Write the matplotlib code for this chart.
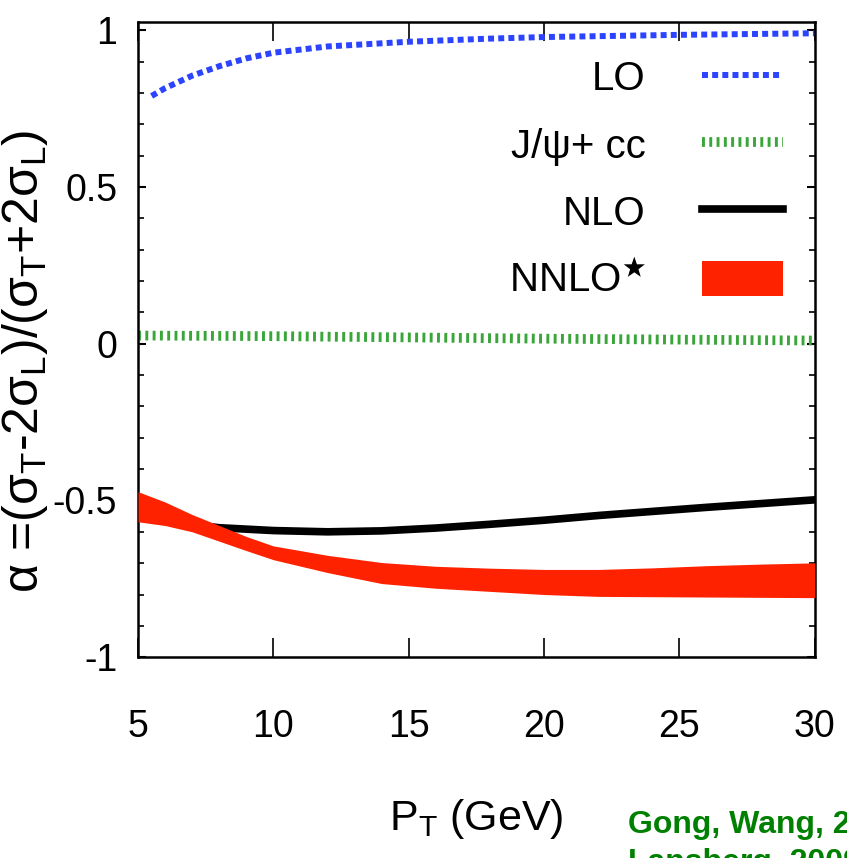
import matplotlib
matplotlib.use("Agg")
import matplotlib.pyplot as plt
from matplotlib.ticker import MultipleLocator

# data
pt_lo = [5.5, 6, 7, 8, 9, 10, 12, 15, 18, 20, 25, 30]
alpha_lo = [0.79, 0.815, 0.855, 0.885, 0.91, 0.928, 0.948, 0.963, 0.973, 0.978, 0.985, 0.99]

pt_psi = [5, 10, 15, 20, 25, 30]
alpha_psi = [0.026, 0.024, 0.02, 0.016, 0.013, 0.01]

pt_nlo = [5, 6, 7, 8, 10, 12, 14, 16, 18, 20, 22, 24, 26, 28, 30]
alpha_nlo = [-0.54, -0.562, -0.577, -0.587, -0.596, -0.6, -0.597, -0.588, -0.576,
             -0.563, -0.548, -0.535, -0.522, -0.51, -0.498]

pt_nnlo = [5, 6, 7, 8, 9, 10, 12, 14, 16, 18, 20, 22, 24, 26, 28, 30]
nnlo_hi = [-0.472, -0.505, -0.545, -0.58, -0.615, -0.645, -0.675, -0.698, -0.71, -0.716,
           -0.72, -0.72, -0.715, -0.708, -0.703, -0.699]
nnlo_lo = [-0.568, -0.58, -0.6, -0.63, -0.66, -0.689, -0.73, -0.765, -0.78, -0.79,
           -0.8, -0.806, -0.807, -0.808, -0.809, -0.81]

xticks = [5, 10, 15, 20, 25, 30]
yticks = [-1, -0.5, 0, 0.5, 1]
ytick_labels = ["-1", "-0.5", "0", "0.5", "1"]

plt.rcParams["font.family"] = ["Liberation Sans", "DejaVu Sans"]
plt.rcParams["axes.unicode_minus"] = False
plt.rcParams["mathtext.fontset"] = "custom"
plt.rcParams["mathtext.rm"] = "Liberation Sans"
plt.rcParams["mathtext.it"] = "Liberation Sans"

fig = plt.figure(figsize=(8.47, 8.58), dpi=100)
ax = fig.add_axes([0.163, 0.234, 0.799, 0.740])

ax.plot(pt_lo, alpha_lo, color="#2c44ff", lw=4.3, linestyle=(0, (1.0, 0.7)),
        dash_capstyle="butt", label="LO")
ax.plot(pt_psi, alpha_psi, color="#3aa63a", lw=7, linestyle=(0, (0.3, 0.45)),
        dash_capstyle="butt", label="J/\u03c8+ cc")
ax.plot(pt_nlo, alpha_nlo, color="black", lw=5.5, label="NLO")
ax.fill_between(pt_nnlo, nnlo_lo, nnlo_hi, color="#ff2200", lw=0, zorder=3,
                label=r"NNLO$^{\bigstar}$")

ax.set_xlim(5, 30)
ax.set_ylim(-1, 1.025)
ax.set_xticks(xticks)
ax.set_xticklabels([str(v) for v in xticks])
ax.set_yticks(yticks)
ax.set_yticklabels(ytick_labels)
ax.yaxis.set_minor_locator(MultipleLocator(0.1))

ax.tick_params(axis="x", which="major", direction="in", top=True, bottom=True,
               length=14, width=1.2, pad=37, labelsize=27)
ax.tick_params(axis="y", which="major", direction="in", left=True, right=True,
               length=6, width=1.5, pad=15, labelsize=27)
ax.tick_params(axis="y", which="minor", direction="in", left=True, right=True,
               length=4, width=1.2)
for sp in ax.spines.values():
    sp.set_linewidth(1.8)

ax.set_xlabel(r"P$_\mathregular{T}$ (GeV)", fontsize=31, labelpad=38)
ax.set_ylabel(r"$\alpha$ =($\sigma_T$-2$\sigma_L$)/($\sigma_T$+2$\sigma_L$)",
              fontsize=36)
ax.yaxis.set_label_coords(-0.13, 0.466)

ax.legend(loc="upper right", bbox_to_anchor=(1, 0.993), markerfirst=False,
          frameon=False, fontsize=29, handlelength=2.0, handleheight=0.95,
          labelspacing=0.7, borderaxespad=0.4, borderpad=0.4, handletextpad=1.4)

fig.text(628 / 847, 1 - 833 / 858, "Gong, Wang, 2008", color="#008000",
         fontsize=23, fontweight="bold", va="baseline")
fig.text(628 / 847, 1 - 871 / 858, "Lansberg, 2009", color="#008000",
         fontsize=23, fontweight="bold", va="baseline")

fig.savefig("out.png", dpi=100)
